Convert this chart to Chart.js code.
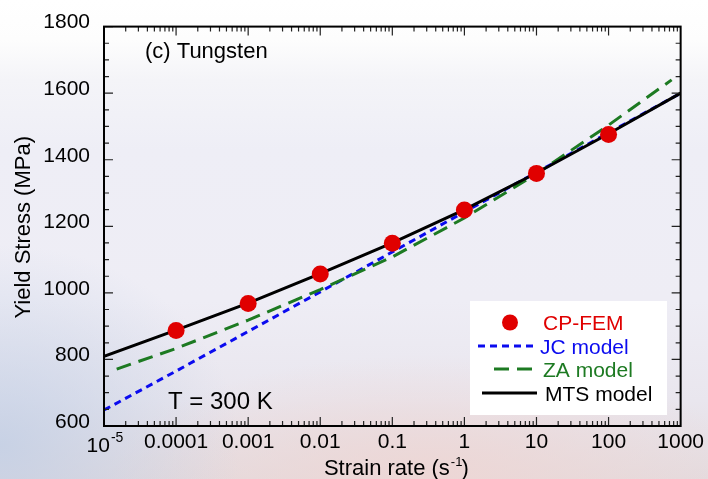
<!DOCTYPE html>
<html>
<head>
<meta charset="utf-8">
<title>Yield stress of tungsten vs strain rate</title>
<script src="https://cdn.jsdelivr.net/npm/chart.js@4.4.1/dist/chart.umd.min.js"></script>
<style>
  html, body { margin: 0; padding: 0; }
  body {
    width: 708px; height: 479px; overflow: hidden;
    background:
      radial-gradient(ellipse 240px 200px at 0px 445px, rgba(192,206,229,0.8), rgba(192,206,229,0) 100%),
      radial-gradient(ellipse 320px 120px at 430px 475px, rgba(238,214,212,0.9), rgba(238,214,212,0) 100%),
      linear-gradient(to bottom, #ffffff 0px, #fdfdfd 40px, #f4f4f8 80px, #eeeef6 150px, #eeedf5 300px, #e9e6ee 400px, #e4dbde 479px);
  }
  canvas { display: block; }
</style>
</head>
<body>
<canvas id="yieldChart" width="708" height="479"></canvas>
<script>
const FONT = "'Liberation Sans', Arial, Helvetica, sans-serif";

// x axis: strain rate decades
const decades = [1e-5, 1e-4, 1e-3, 1e-2, 1e-1, 1, 10, 100, 1000];
const decadeLabels = ['10', '0.0001', '0.001', '0.01', '0.1', '1', '10', '100', '1000'];

// crystal plasticity FEM results
const femRates = [1e-4, 1e-3, 1e-2, 1e-1, 1, 10, 100];
const femStress = [887, 968, 1057, 1149, 1249, 1359, 1476];

// Johnson-Cook fit
const jcRates = [1e-5, 1e-4, 1e-3, 1e-2, 1e-1, 1, 10, 100, 1000];
const jcStress = [648, 765, 884, 1003, 1123, 1243, 1362, 1481, 1600];

// Zerilli-Armstrong fit
const zaRates = [1.5e-5, 1e-4, 1e-3, 1e-2, 1e-1, 1, 10, 100, 750];
const zaStress = [771, 833, 918, 1010, 1108, 1225, 1358, 1504, 1640];

// Mechanical Threshold Stress fit
const mtsRates = [1e-5, 1e-4, 1e-3, 1e-2, 1e-1, 1, 10, 100, 1000];
const mtsStress = [809, 888, 969, 1058, 1150, 1250, 1360, 1478, 1600];

const pts = (xs, ys) => xs.map((x, i) => ({ x: x, y: ys[i] }));

const RED = '#e00000', BLUE = '#0b0bef', GREEN = '#1d7a22';

// inward ticks on all four sides plus the box
const framePlugin = {
  id: 'frame',
  afterDatasetsDraw(chart) {
    const { ctx, chartArea: a, scales: { x, y } } = chart;
    ctx.save();
    ctx.strokeStyle = '#222';
    ctx.lineWidth = 1.2;
    ctx.beginPath();
    for (let e = -5; e <= 2; e++) {
      for (let m = 1; m <= 9; m++) {
        const px = x.getPixelForValue(m * Math.pow(10, e));
        const len = m === 1 ? 9 : 5;
        ctx.moveTo(px, a.bottom); ctx.lineTo(px, a.bottom - len);
        ctx.moveTo(px, a.top); ctx.lineTo(px, a.top + len);
      }
    }
    for (let v = y.min; v <= y.max; v += 50) {
      const py = y.getPixelForValue(v);
      const len = v % 200 === 0 ? 9 : 5;
      ctx.moveTo(a.left, py); ctx.lineTo(a.left + len, py);
      ctx.moveTo(a.right, py); ctx.lineTo(a.right - len, py);
    }
    ctx.stroke();
    ctx.strokeStyle = '#000';
    ctx.lineWidth = 2;
    ctx.strokeRect(a.left, a.top, a.right - a.left, a.bottom - a.top);
    ctx.restore();
  }
};

// axis titles, the 10^-5 label and the panel notes
const textPlugin = {
  id: 'texts',
  afterDraw(chart) {
    const { ctx, chartArea: a, scales: { x } } = chart;
    ctx.save();
    ctx.fillStyle = '#000';
    ctx.textAlign = 'left';
    ctx.textBaseline = 'alphabetic';

    // first decade label with superscript
    ctx.font = '21px ' + FONT;
    const w10 = ctx.measureText(decadeLabels[0]).width;
    ctx.font = '14px ' + FONT;
    const wExp = ctx.measureText('-5').width;
    const x0 = x.getPixelForValue(decades[0]) - (w10 + 1 + wExp) / 2 + 1;
    ctx.font = '21px ' + FONT;
    ctx.fillText(decadeLabels[0], x0, 452);
    ctx.font = '14px ' + FONT;
    ctx.fillText('-5', x0 + w10 + 1, 442);

    // x title
    ctx.font = '22px ' + FONT;
    const t1 = 'Strain rate (s';
    const wt1 = ctx.measureText(t1).width;
    ctx.font = '13px ' + FONT;
    const wSup = ctx.measureText('-1').width;
    ctx.font = '22px ' + FONT;
    const wt2 = ctx.measureText(')').width;
    const tx = (a.left + a.right) / 2 + 4 - (wt1 + wSup + wt2) / 2;
    ctx.fillText(t1, tx, 475);
    ctx.fillText(')', tx + wt1 + wSup, 475);
    ctx.font = '13px ' + FONT;
    ctx.fillText('-1', tx + wt1 + 1, 466);

    // y title
    ctx.save();
    ctx.translate(30, (a.top + a.bottom) / 2 + 1);
    ctx.rotate(-Math.PI / 2);
    ctx.textAlign = 'center';
    ctx.font = '22px ' + FONT;
    ctx.fillText('Yield Stress (MPa)', 0, 0);
    ctx.restore();

    ctx.font = '22px ' + FONT;
    ctx.fillText('(c) Tungsten', 145, 58);
    ctx.font = '24px ' + FONT;
    ctx.fillText('T = 300 K', 168, 409);
    ctx.restore();
  }
};

// boxed legend in the lower right
const legendPlugin = {
  id: 'boxLegend',
  afterDraw(chart) {
    const { ctx } = chart;
    const ds = chart.data.datasets;
    ctx.save();
    ctx.fillStyle = '#ffffff';
    ctx.fillRect(470, 301, 197, 114);
    ctx.font = '21px ' + FONT;
    ctx.textBaseline = 'alphabetic';
    ctx.textAlign = 'left';

    // markers
    ctx.fillStyle = ds[0].backgroundColor;
    ctx.beginPath();
    ctx.arc(510, 322.5, 8, 0, Math.PI * 2);
    ctx.fill();

    const sample = (d, x1, x2, yy) => {
      ctx.strokeStyle = d.borderColor;
      ctx.lineWidth = d.borderWidth;
      ctx.setLineDash(d.borderDash || []);
      ctx.beginPath();
      ctx.moveTo(x1, yy); ctx.lineTo(x2, yy);
      ctx.stroke();
    };
    sample(ds[1], 478, 538, 346);
    sample(ds[2], 494, 534, 369);
    sample(ds[3], 482, 537, 393);
    ctx.setLineDash([]);

    ctx.fillStyle = RED;   ctx.fillText(ds[0].label, 543, 330);
    ctx.fillStyle = BLUE;  ctx.fillText(ds[1].label, 540, 354);
    ctx.fillStyle = GREEN; ctx.fillText(ds[2].label, 543, 377);
    ctx.fillStyle = '#000'; ctx.fillText(ds[3].label, 545, 401);
    ctx.restore();
  }
};

new Chart(document.getElementById('yieldChart'), {
  type: 'line',
  data: {
    datasets: [
      {
        label: 'CP-FEM', data: pts(femRates, femStress), showLine: false,
        pointRadius: 8.5, pointHoverRadius: 8.5, backgroundColor: RED, borderColor: RED,
        pointBorderWidth: 0, order: 0
      },
      {
        label: 'JC model', data: pts(jcRates, jcStress), borderColor: BLUE, borderWidth: 3,
        borderDash: [7, 5], pointRadius: 0, fill: false, order: 3
      },
      {
        label: 'ZA model', data: pts(zaRates, zaStress), borderColor: GREEN, borderWidth: 3,
        borderDash: [15, 8], pointRadius: 0, fill: false, order: 2
      },
      {
        label: 'MTS model', data: pts(mtsRates, mtsStress), borderColor: '#000', borderWidth: 3,
        pointRadius: 0, fill: false, order: 1
      }
    ]
  },
  options: {
    responsive: false,
    animation: false,
    devicePixelRatio: 1,
    layout: { padding: { top: 23, right: 26, left: 0, bottom: 0 } },
    plugins: { legend: { display: false }, tooltip: { enabled: false } },
    scales: {
      x: {
        type: 'logarithmic',
        min: 1e-5,
        max: 1000,
        afterBuildTicks: (scale) => { scale.ticks = decades.map(v => ({ value: v, major: true })); },
        afterFit: (scale) => { scale.height = 53; },
        ticks: {
          autoSkip: false, maxRotation: 0, padding: 4, color: '#000',
          font: { family: FONT, size: 21 },
          callback: (v) => {
            const i = decades.findIndex(d => Math.abs(d - v) / d < 1e-6);
            return i > 0 ? decadeLabels[i] : '';
          }
        },
        grid: { display: false, drawTicks: false },
        border: { display: false }
      },
      y: {
        type: 'linear',
        min: 600,
        max: 1800,
        afterFit: (scale) => { scale.width = 104; },
        ticks: {
          stepSize: 200, padding: 14, labelOffset: -4, color: '#000',
          font: { family: FONT, size: 21 },
          callback: (v) => String(v)
        },
        grid: { display: false, drawTicks: false },
        border: { display: false }
      }
    }
  },
  plugins: [framePlugin, textPlugin, legendPlugin]
});
</script>
</body>
</html>
